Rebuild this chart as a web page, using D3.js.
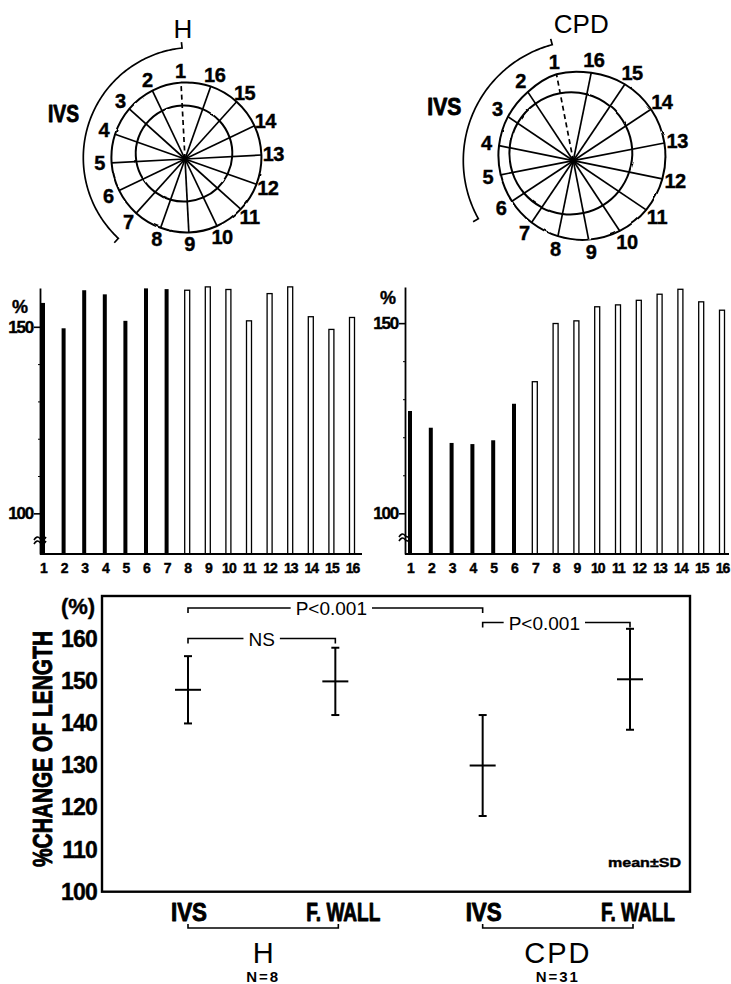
<!DOCTYPE html>
<html>
<head>
<meta charset="utf-8">
<script src="https://cdn.jsdelivr.net/npm/d3@7"></script>
<style>
  html, body { margin: 0; padding: 0; background: #fff; }
  svg { display: block; }
  text { font-family: "Liberation Sans", Arial, Helvetica, sans-serif; fill: #000; }
  .heavy { stroke: #000; stroke-width: 0.9px; stroke-linejoin: round; }
  .semi { stroke: #000; stroke-width: 0.4px; }
</style>
</head>
<body>
<svg id="fig" width="731" height="984"></svg>
<script>
// ---- data ----
// 16 radial segments around the LV short-axis contour, numbered counter-clockwise from 12 o'clock
const segments = ["1","2","3","4","5","6","7","8","9","10","11","12","13","14","15","16"];

// % change of segment length (diastole / systole), per segment
const hChange   = [156.4, 149.6, 159.8, 158.7, 151.6, 160.3, 160.1, 159.8, 160.7, 160.0, 151.6, 158.9, 160.7, 152.7, 149.3, 152.5];
const cpdChange = [126.9, 122.5, 118.5, 118.2, 119.2, 128.8, 134.6, 149.9, 150.6, 154.3, 154.8, 156.0, 157.6, 158.9, 155.6, 153.4];

// number of leading segments that belong to the septum (drawn solid)
const hIvsSegments = 7;
const cpdIvsSegments = 6;

// contour radii along each spoke (diastolic outer, systolic inner)
const hOuterR   = [76.5, 75.8, 75.0, 74.2, 73.5, 73.0, 72.9, 73.0, 73.5, 74.2, 75.0, 75.8, 76.5, 77.0, 77.1, 77.0];
const hInnerR   = [53.5, 53.4, 52.4, 50.8, 48.7, 46.5, 44.6, 43.2, 42.5, 42.6, 43.6, 45.2, 47.3, 49.5, 51.4, 52.9];
const cpdOuterR = [88.0, 82.5, 78.8, 75.8, 74.0, 73.6, 74.6, 77.0, 80.4, 84.2, 87.9, 90.9, 92.8, 93.2, 92.2, 89.7];
const cpdInnerR = [68.7, 68.5, 67.2, 64.9, 62.0, 59.0, 56.3, 54.3, 53.3, 53.5, 54.8, 57.0, 60.0, 63.0, 65.7, 67.8];

// summary (mean ± SD)
const groups      = ["H", "CPD"];
const groupN      = ["N=8", "N=31"];
const walls       = ["IVS", "F. WALL"];
const summaryKeys = ["H-IVS", "H-FW", "CPD-IVS", "CPD-FW"];
const summaryMean = [148, 150, 130, 150.5];
const summarySD   = [8, 8, 12, 12];
const summaryTicks = [100, 110, 120, 130, 140, 150, 160];
const barTicks      = [100, 150];
const barMinorTicks = [110, 120, 130, 140];
const comparisons = [
  { from: 0, to: 2, label: "P<0.001" },
  { from: 0, to: 1, label: "NS" },
  { from: 2, to: 3, label: "P<0.001" }
];

// ---- drawing ----
const svg = d3.select("#fig");

// slight hand-drawn wobble for the traced contours
const defs = svg.append("defs");
const wob = defs.append("filter").attr("id", "wobble")
  .attr("x", "-10%").attr("y", "-10%").attr("width", "120%").attr("height", "120%");
wob.append("feTurbulence").attr("type", "fractalNoise").attr("baseFrequency", 0.09)
  .attr("numOctaves", 1).attr("seed", 7).attr("result", "noise");
wob.append("feDisplacementMap").attr("in", "SourceGraphic").attr("in2", "noise")
  .attr("scale", 2.4).attr("xChannelSelector", "R").attr("yChannelSelector", "G");

function drawPolar(cfg) {
  const g = svg.append("g").attr("transform", `translate(${cfg.cx},${cfg.cy})`);
  const ang = i => (i * 22.5 + cfg.rot) * Math.PI / 180;   // counter-clockwise from 12 o'clock
  const px = (r, t) => -r * Math.sin(t);
  const py = (r, t) => -r * Math.cos(t);

  const radial = d3.lineRadial()
    .angle((d, i) => -ang(i))
    .radius(d => d)
    .curve(d3.curveCardinalClosed.tension(0));

  [cfg.outer, cfg.inner].forEach(r => {
    g.append("path").attr("d", radial(r))
      .attr("fill", "none").attr("stroke", "#000").attr("stroke-width", 2)
      .attr("filter", "url(#wobble)");
  });

  g.selectAll("line.spoke").data(cfg.outer).join("line")
    .attr("class", "spoke")
    .attr("x1", 0).attr("y1", 0)
    .attr("x2", (r, i) => px(r, ang(i)))
    .attr("y2", (r, i) => py(r, ang(i)))
    .attr("stroke", "#000").attr("stroke-width", 1.7)
    .attr("stroke-dasharray", (r, i) => i === 0 ? "5,3.5" : null);

  g.selectAll("text.seg").data(segments).join("text")
    .attr("class", "seg semi")
    .attr("x", (s, i) => px(cfg.outer[i] + cfg.gap, ang(i)))
    .attr("y", (s, i) => py(cfg.outer[i] + cfg.gap, ang(i)))
    .attr("text-anchor", "middle").attr("dominant-baseline", "central")
    .attr("font-size", 20).attr("font-weight", "bold")
    .attr("letter-spacing", -0.5)
    .text(s => s);

  // septal bracket
  const a = cfg.arc;
  const ap = (r, deg) => {
    const t = deg * Math.PI / 180;
    return [a.dx - r * Math.sin(t), a.dy - r * Math.cos(t)];
  };
  const pts = [ap(a.r + 6, a.from)];
  d3.range(a.from, a.to + 0.01, 1).forEach(d => pts.push(ap(a.r, d)));
  pts.push(ap(a.r + 6, a.to));
  g.append("path").attr("d", d3.line()(pts))
    .attr("fill", "none").attr("stroke", "#000").attr("stroke-width", 1.7);

  g.append("text").attr("class", "heavy")
    .attr("x", cfg.ivs[0]).attr("y", cfg.ivs[1])
    .attr("font-size", 24).attr("font-weight", "bold")
    .attr("textLength", cfg.ivs[2]).attr("lengthAdjust", "spacingAndGlyphs")
    .text(walls[0]);

  g.append("text")
    .attr("x", cfg.title[0]).attr("y", cfg.title[1])
    .attr("text-anchor", "middle").attr("font-size", 26)
    .text(cfg.name);
}

drawPolar({
  name: groups[0], cx: 185, cy: 159, rot: 3, outer: hOuterR, inner: hInnerR, gap: 12,
  arc: { dx: 8.6, dy: -1.3, r: 110.3, from: 6, to: 137 },
  ivs: [-137, -37, 31], title: [-2, -121]
});
drawPolar({
  name: groups[1], cx: 573.3, cy: 160.7, rot: 11, outer: cpdOuterR, inner: cpdInnerR, gap: 13,
  arc: { dx: 10, dy: -0.1, r: 120, from: 15, to: 119 },
  ivs: [-146, -45.5, 34], title: [8, -127.5]
});

// ---- segment bar charts ----
function drawBars(cfg) {
  const g = svg.append("g");
  const x = d3.scalePoint().domain(segments).range(cfg.xRange);
  const y = d3.scaleLinear().domain(cfg.yDomain).range([554, cfg.yTop]);

  // bars
  g.selectAll("rect.bar").data(cfg.values).join("rect")
    .attr("class", "bar")
    .attr("x", (v, i) => x(segments[i]) - (i < cfg.ivs ? 2 : 2.5))
    .attr("width", (v, i) => i < cfg.ivs ? 4 : 5)
    .attr("y", v => y(v))
    .attr("height", v => 554 - y(v))
    .attr("fill", (v, i) => i < cfg.ivs ? "#000" : "#fff")
    .attr("stroke", (v, i) => i < cfg.ivs ? "none" : "#000")
    .attr("stroke-width", 1.3);

  // y axis
  const ax = g.append("g").attr("transform", `translate(${cfg.axisX},0)`)
    .call(d3.axisLeft(y).tickValues(barTicks).tickSize(6).tickPadding(1).tickSizeOuter(0)
      .tickFormat(d3.format("d")));
  ax.select(".domain").attr("stroke-width", 1.8);
  ax.selectAll(".tick line").attr("stroke-width", 1.6);
  ax.selectAll(".tick text").attr("class", "semi").attr("font-size", 17).attr("font-weight", "bold")
    .attr("letter-spacing", -1.2).style("font-family", '"Liberation Sans", Arial, sans-serif');
  g.append("g").attr("transform", `translate(${cfg.axisX},0)`)
    .call(d3.axisLeft(y).tickValues(barMinorTicks).tickSize(2).tickFormat(""))
    .call(s => s.select(".domain").remove());

  g.append("text").attr("x", cfg.pct[0]).attr("y", cfg.pct[1]).attr("class", "semi")
    .attr("font-size", 18).attr("font-weight", "bold").text("%");

  // axis break
  const by = cfg.breakY;
  [0, 4].forEach(o => {
    g.append("path")
      .attr("d", `M${cfg.axisX - 6},${by + o + 2} q3,-5 6,-1.5 t6,-1.5`)
      .attr("fill", "none").attr("stroke", "#000").attr("stroke-width", 1.6);
  });

  // baseline
  g.append("line").attr("x1", cfg.axisX).attr("x2", cfg.xEnd).attr("y1", 554).attr("y2", 554)
    .attr("stroke", "#000").attr("stroke-width", 1.8);

  // segment numbers
  const xa = g.append("g").attr("transform", "translate(0,554)")
    .call(d3.axisBottom(x).tickSize(0).tickPadding(9));
  xa.select(".domain").remove();
  xa.selectAll(".tick text").attr("class", "semi").attr("font-size", 14).attr("font-weight", "bold")
    .attr("letter-spacing", -1).style("font-family", '"Liberation Sans", Arial, sans-serif');
}

drawBars({ values: hChange, ivs: hIvsSegments, xRange: [43, 352], yDomain: [89.1, 160.4], yTop: 288,
  axisX: 40, xEnd: 362, pct: [12, 313], breakY: 538 });
drawBars({ values: cpdChange, ivs: cpdIvsSegments, xRange: [410, 722], yDomain: [89.3, 159.5], yTop: 287,
  axisX: 405, xEnd: 729, pct: [380, 304], breakY: 535 });

// ---- summary chart ----
const sx = d3.scalePoint().domain(summaryKeys).range([188, 630]);
const sy = d3.scaleLinear().domain([100, 170.3]).range([891.7, 596]);
const sg = svg.append("g");

sg.append("rect").attr("x", 102).attr("y", 596).attr("width", 588).attr("height", 295.7)
  .attr("fill", "none").attr("stroke", "#000").attr("stroke-width", 2.4);

const yAx = sg.append("g").attr("transform", "translate(102,0)")
  .call(d3.axisLeft(sy).tickValues(summaryTicks).tickSize(0).tickPadding(5).tickFormat(d3.format("d")));
yAx.select(".domain").remove();
yAx.selectAll(".tick text").attr("class", "semi").attr("font-size", 23).attr("font-weight", "bold")
  .attr("letter-spacing", -0.8).style("font-family", '"Liberation Sans", Arial, sans-serif');

sg.append("text").attr("x", 78).attr("y", 614).attr("text-anchor", "middle").attr("class", "semi")
  .attr("font-size", 22).attr("font-weight", "bold").text("(%)");

sg.append("text").attr("transform", "translate(52,749) rotate(-90)").attr("class", "heavy")
  .attr("text-anchor", "middle").attr("font-size", 28).attr("font-weight", "bold")
  .attr("textLength", 236).attr("lengthAdjust", "spacingAndGlyphs")
  .text("%CHANGE OF LENGTH");

// mean ± SD marks
summaryKeys.forEach((k, i) => {
  const x = sx(k), m = summaryMean[i], s = summarySD[i];
  const line = (x1, y1, x2, y2) => sg.append("line")
    .attr("x1", x1).attr("y1", y1).attr("x2", x2).attr("y2", y2)
    .attr("stroke", "#000").attr("stroke-width", 2);
  line(x, sy(m + s), x, sy(m - s));
  line(x - 4, sy(m + s), x + 4, sy(m + s));
  line(x - 4, sy(m - s), x + 4, sy(m - s));
  line(x - 13, sy(m), x + 13, sy(m));
});

// significance brackets
const bracketY = [608, 638.5, 622.5];
const bracketTextShift = [-4, 0, -12];
comparisons.forEach((c, i) => {
  const x1 = sx(summaryKeys[c.from]), x2 = sx(summaryKeys[c.to]);
  const y = bracketY[i];
  const cxm = (x1 + x2) / 2 + bracketTextShift[i];
  const t = sg.append("text").attr("x", cxm).attr("y", y + 7).attr("text-anchor", "middle")
    .attr("font-size", 19).text(c.label);
  const w = t.node().getComputedTextLength();
  const p = d3.path();
  p.moveTo(x1, y + 5); p.lineTo(x1, y); p.lineTo(cxm - w / 2 - 5, y);
  p.moveTo(cxm + w / 2 + 5, y); p.lineTo(x2, y); p.lineTo(x2, y + 5);
  sg.append("path").attr("d", p.toString()).attr("fill", "none")
    .attr("stroke", "#000").attr("stroke-width", 1.6);
});

sg.append("text").attr("x", 681).attr("y", 867).attr("text-anchor", "end").attr("class", "semi")
  .attr("font-size", 13).attr("font-weight", "bold")
  .attr("textLength", 73).attr("lengthAdjust", "spacingAndGlyphs").text("mean\u00B1SD");

// wall labels and group labels
summaryKeys.forEach((k, i) => {
  const isIvs = i % 2 === 0;
  sg.append("text").attr("class", "heavy")
    .attr("x", sx(k) + (isIvs ? -17 : -29)).attr("y", 921)
    .attr("font-size", 25).attr("font-weight", "bold")
    .attr("textLength", isIvs ? 36 : 74).attr("lengthAdjust", "spacingAndGlyphs")
    .text(walls[i % 2]);
});
groups.forEach((gName, gi) => {
  const x1 = sx(summaryKeys[gi * 2]), x2 = sx(summaryKeys[gi * 2 + 1]) + 3;
  sg.append("path")
    .attr("d", `M${x1},924 L${x1},928 L${x2},928 L${x2},924`)
    .attr("fill", "none").attr("stroke", "#000").attr("stroke-width", 1.6);
  const cx = (x1 + x2) / 2;
  sg.append("text").attr("x", cx).attr("y", 963).attr("text-anchor", "middle")
    .attr("font-size", 29).attr("letter-spacing", gi === 1 ? 2 : 0).text(gName);
  sg.append("text").attr("x", cx).attr("y", 982).attr("text-anchor", "middle")
    .attr("font-size", 15).attr("font-weight", "bold").attr("letter-spacing", 2).text(groupN[gi]);
});
</script>
</body>
</html>
